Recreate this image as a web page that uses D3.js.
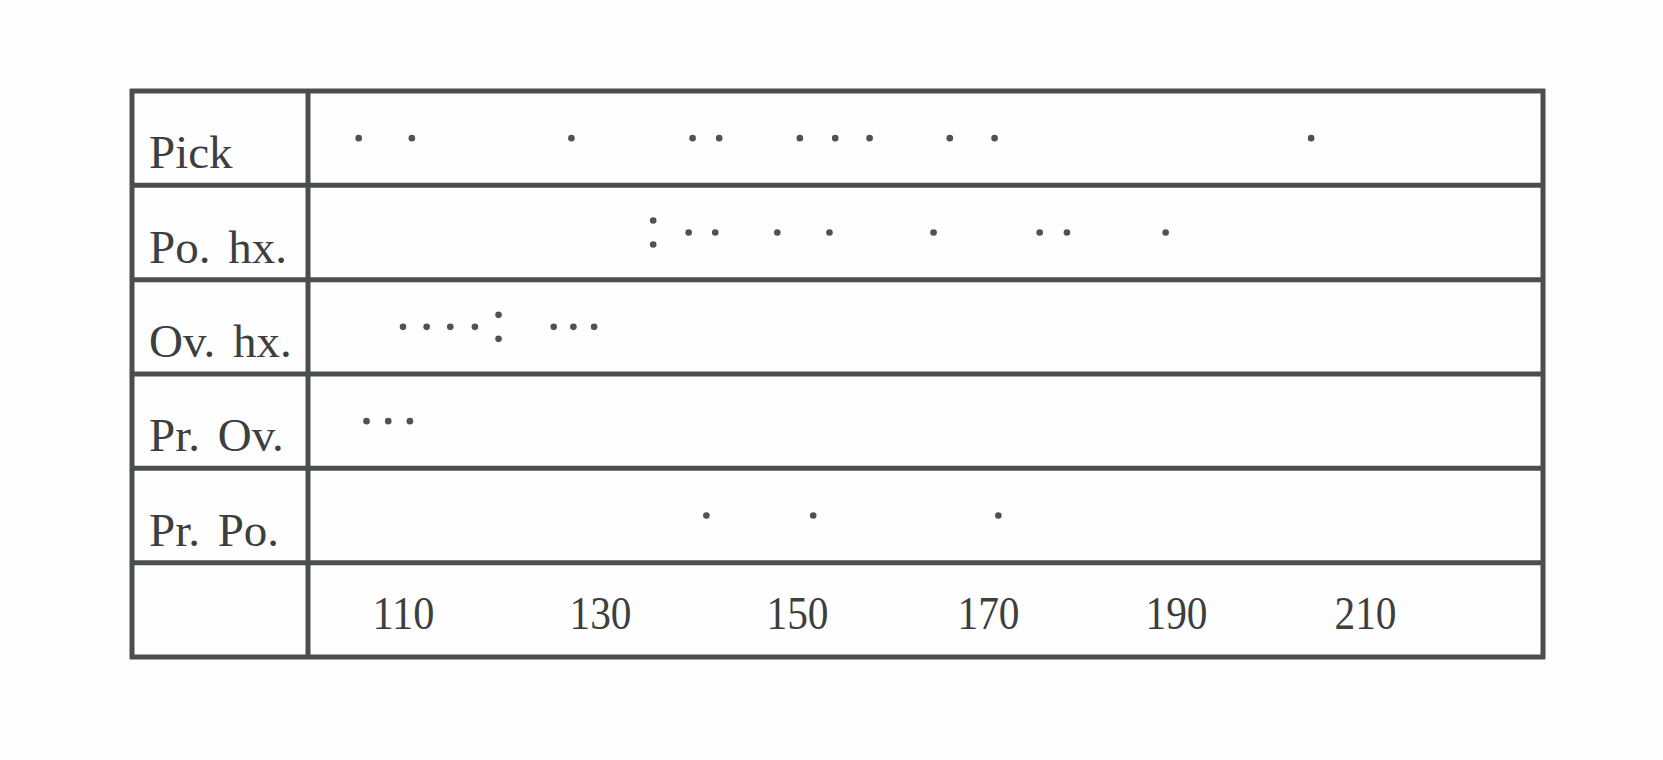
<!DOCTYPE html>
<html>
<head>
<meta charset="utf-8">
<script src="https://cdn.jsdelivr.net/npm/d3@7"></script>
<style>
  html, body { margin: 0; padding: 0; background: #fefefe; }
  svg { display: block; }
</style>
</head>
<body>
<svg id="chart" width="1663" height="760"></svg>
<script>
// ---- data ----
const categories = ["Pick", "Po. hx.", "Ov. hx.", "Pr. Ov.", "Pr. Po."];
const pick = [105.5, 110.9, 127.1, 139.4, 142.1, 150.3, 154.0, 157.6, 166.0, 170.7, 204.3];
const poHx = [135.4, 135.4, 139.0, 141.7, 148.0, 153.4, 164.3, 175.5, 178.4, 188.9];
const ovHx = [110.0, 112.4, 114.8, 117.3, 119.7, 119.7, 125.3, 127.3, 129.4];
const prOv = [106.3, 108.5, 110.7];
const prPo = [140.8, 151.7, 171.1];
const tickValues = [110, 130, 150, 170, 190, 210];

const seriesList = [pick, poHx, ovHx, prOv, prPo];

(function draw() {
  const svg = d3.select("#chart");
  const xLeft = 132, xDiv = 308, xRight = 1543, yTop = 91, yBottom = 657;
  const lineColor = "#4a4f4c";
  const inkColor = "#3c3f3d";

  // the printed scale is slightly uneven; follow the printed tick positions
  const x = d3.scaleLinear().domain(tickValues).range([403, 600, 797, 988, 1176, 1365]);
  const y = d3.scaleBand().domain([...categories, "axis"]).range([yTop, yBottom]).padding(0);

  // grid lines
  const hLines = [yTop, ...y.domain().map(d => y(d) + y.bandwidth())];
  svg.append("g").selectAll("line").data(hLines).join("line")
    .attr("x1", xLeft - 2).attr("x2", xRight + 2)
    .attr("y1", d => d).attr("y2", d => d)
    .attr("stroke", lineColor).attr("stroke-width", 5);

  svg.append("g").selectAll("line").data([xLeft, xDiv, xRight]).join("line")
    .attr("x1", d => d).attr("x2", d => d)
    .attr("y1", yTop - 2).attr("y2", yBottom + 2)
    .attr("stroke", lineColor).attr("stroke-width", 5);

  // row labels
  svg.append("g").selectAll("text").data(categories).join("text")
    .attr("x", 149)
    .attr("y", d => y(d) + y.bandwidth() / 2 + 30)
    .attr("font-family", "'Liberation Serif', 'DejaVu Serif', serif")
    .attr("font-size", 47)
    .attr("word-spacing", 6)
    .attr("fill", inkColor)
    .text(d => d);

  // dots (stack duplicated values vertically)
  const points = [];
  seriesList.forEach((vals, i) => {
    const counts = d3.rollup(vals, v => v.length, v => v);
    const seen = new Map();
    vals.forEach(v => {
      const n = counts.get(v);
      const k = seen.get(v) || 0;
      seen.set(v, k + 1);
      const off = n > 1 ? (k - (n - 1) / 2) * 24 : 0;
      points.push({ cat: categories[i], v, off });
    });
  });

  svg.append("g").selectAll("circle").data(points).join("circle")
    .attr("cx", d => x(d.v))
    .attr("cy", d => y(d.cat) + y.bandwidth() / 2 + d.off)
    .attr("r", 3.3)
    .attr("fill", "#4e5250");

  // x axis labels in the bottom row
  const axis = d3.axisBottom(x).tickValues(tickValues).tickSize(0).tickFormat(d3.format("d"));
  const gAxis = svg.append("g")
    .attr("transform", `translate(0, ${y("axis")})`)
    .call(axis);
  gAxis.select(".domain").remove();
  gAxis.selectAll("text")
    .attr("y", 629 - y("axis"))
    .attr("dy", 0)
    .attr("font-family", "'Liberation Serif', 'DejaVu Serif', serif")
    .attr("font-size", 47)
    .attr("fill", inkColor)
    .attr("textLength", 62)
    .attr("lengthAdjust", "spacingAndGlyphs");
})();
</script>
</body>
</html>
